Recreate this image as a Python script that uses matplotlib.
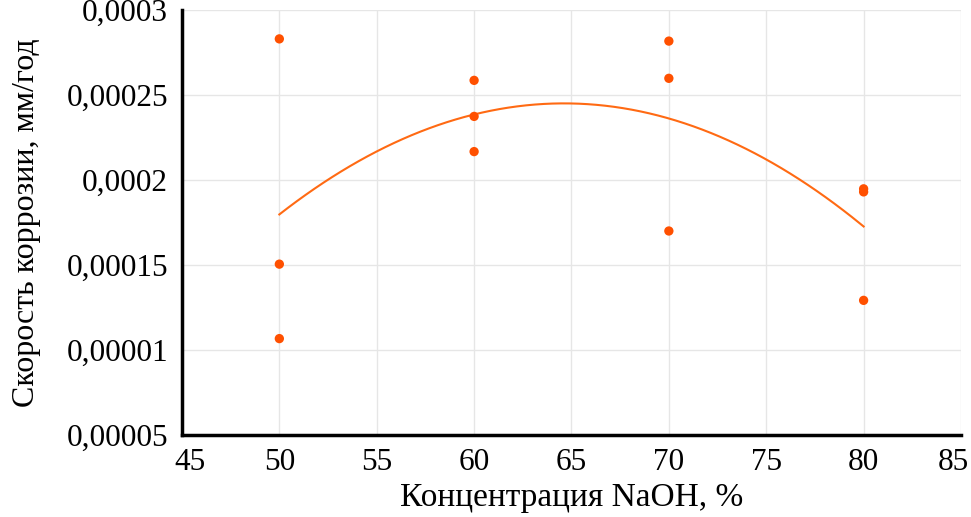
import numpy as np
import matplotlib
matplotlib.use("Agg")
import matplotlib.pyplot as plt
import matplotlib.transforms as mtransforms

# concentration NaOH, %
conc = [50, 50, 50, 60, 60, 60, 70, 70, 70, 80, 80, 80]
# corrosion rate, mm/year
rate = [0.000283, 0.0001505, 0.0001067,
        0.0002586, 0.0002374, 0.0002167,
        0.0002817, 0.0002598, 0.00017,
        0.0001948, 0.000193, 0.0001292]

x_ticks = [45, 50, 55, 60, 65, 70, 75, 80, 85]
y_ticks = [0.00005, 0.0001, 0.00015, 0.0002, 0.00025, 0.0003]
y_tick_labels = ["0,00005", "0,00001", "0,00015", "0,0002", "0,00025", "0,0003"]

plt.rcParams['font.family'] = ['Liberation Serif', 'DejaVu Serif']

fig = plt.figure(figsize=(9.71, 5.17), dpi=100)
ax = fig.add_axes([0.1874, 0.1586, 0.8023, 0.8221])

# polynomial trend line (2nd order) through the measured points
coef = np.polyfit(conc, rate, 2)
xs = np.linspace(min(conc), max(conc), 200)
ax.plot(xs, np.polyval(coef, xs), color='#ff6a13', linewidth=1.5, zorder=2)

ax.scatter(conc, rate, s=45, color='#ff5000', edgecolors='none', zorder=3)

ax.set_xlim(45, 85)
ax.set_ylim(0.00005, 0.0003)
ax.set_xticks(x_ticks)
ax.set_yticks(y_ticks)
ax.set_yticklabels(y_tick_labels)
ax.tick_params(axis='both', length=0, labelsize=22.5)
ax.tick_params(axis='y', pad=10)
ax.tick_params(axis='x', pad=9)

# nudge the edge x labels inwards like in the original
labels = ax.get_xticklabels()
shift_first = mtransforms.ScaledTranslation(8 / 100, 0, fig.dpi_scale_trans)
shift_last = mtransforms.ScaledTranslation(-8 / 100, 0, fig.dpi_scale_trans)
labels[0].set_transform(labels[0].get_transform() + shift_first)
labels[-1].set_transform(labels[-1].get_transform() + shift_last)

ax.grid(True, color='#e6e6e6', linewidth=1)
ax.set_axisbelow(True)

for side in ['top', 'right']:
    ax.spines[side].set_visible(False)
for side in ['left', 'bottom']:
    ax.spines[side].set_linewidth(2.5)
    ax.spines[side].set_color('black')

ax.set_xlabel('Концентрация NaOH, %', fontsize=24, labelpad=4)
ax.set_ylabel('Скорость коррозии, мм/год', fontsize=23, labelpad=18)

fig.savefig('out.png', dpi=100)
